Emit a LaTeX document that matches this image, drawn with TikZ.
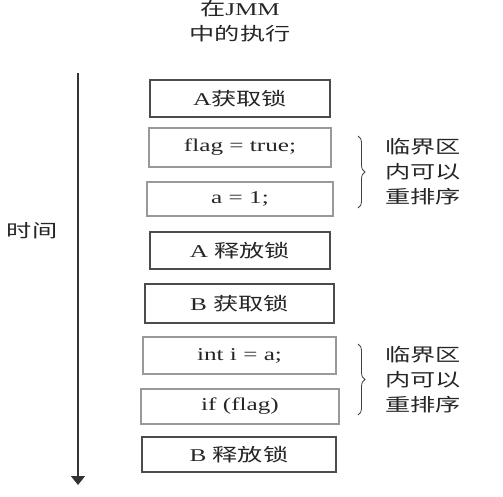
\documentclass[tikz,border=0pt]{standalone}
\usepackage{fontspec}
\usepackage{graphicx}
\setmainfont{Liberation Serif}
\newfontfamily\cjk{Noto Sans CJK SC}
\usetikzlibrary{arrows.meta,decorations.pathreplacing}
\newcommand{\wide}[1]{\scalebox{1.4}[1]{#1}}

\begin{document}
\begin{tikzpicture}[x=1pt,y=-1pt,
  txt/.style={font=\fontsize{18}{25}\selectfont,text=black!85},
  lockbox/.style={txt,draw=black!70,line width=1.2pt,minimum width=180pt,minimum height=37pt,inner sep=0pt},
  stmtbox/.style={txt,draw=black!40,line width=1.2pt,minimum height=37pt,inner sep=0pt},
  bracelabel/.style={txt,align=center,font=\fontsize{18}{25}\selectfont\cjk},
  bracedraw/.style={decorate,decoration={brace,amplitude=7pt},line width=0.8pt,draw=black!75}
]
\useasboundingbox (0,0) rectangle (503,496);

% title and time axis
\node[txt,align=center] (title) at (240,21) {\wide{{\cjk 在}JMM}\\\wide{\cjk 中的执行}};
\node[txt] (time) at (32,231) {\wide{\cjk 时间}};
\coordinate (t0) at (78,73);
\coordinate (t1) at (78,485);
\draw[line width=1.2pt,draw=black!80,-{Triangle[width=14pt,length=9pt]}] (t0) -- (t1);

% thread A
\node[lockbox] (alock) at (240,98.5) {\wide{A{\cjk 获取锁}}};
\node[stmtbox,minimum width=182pt,minimum height=39pt] (flag) at (240,147.5) {\wide{flag = true;}};
\node[stmtbox,minimum width=186pt,minimum height=34pt] (aset) at (240,199) {\wide{a = 1;}};
\node[lockbox] (aunlock) at (240,250.5) {\wide{A {\cjk 释放锁}}};

% thread B
\node[lockbox,minimum width=189pt,minimum height=39pt] (block) at (239.5,303.5) {\wide{B {\cjk 获取锁}}};
\node[stmtbox,minimum width=193pt] (iread) at (239.5,355.5) {\wide{int i = a;}};
\node[stmtbox,minimum width=198pt,minimum height=35pt] (ifflag) at (240,406.5) {\wide{if (flag)}};
\node[lockbox,minimum width=194pt,minimum height=35pt] (bunlock) at (239,454.5) {\wide{B {\cjk 释放锁}}};

% braces
\coordinate (ba0) at (358,136);
\coordinate (ba1) at (358,208);
\draw[bracedraw] (ba0) -- (ba1);
\node[bracelabel] (areorder) at (423,172) {\wide{临界区}\\\wide{内可以}\\\wide{重排序}};
\coordinate (bb0) at (358,344);
\coordinate (bb1) at (358,415);
\draw[bracedraw] (bb0) -- (bb1);
\node[bracelabel] (breorder) at (423,379.5) {\wide{临界区}\\\wide{内可以}\\\wide{重排序}};
\end{tikzpicture}
\end{document}
